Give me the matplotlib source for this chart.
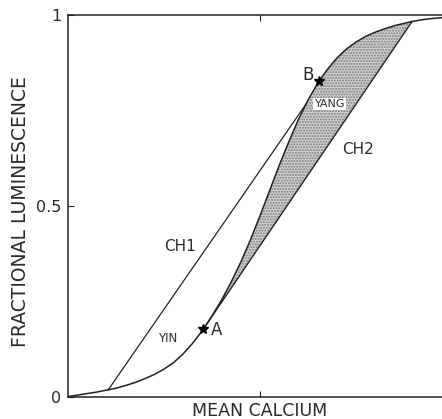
import matplotlib
matplotlib.use("Agg")
import matplotlib.pyplot as plt

# sigmoid curve (mean calcium -> fractional luminescence)
curve_x = [0.000, 0.025, 0.050, 0.075, 0.100, 0.125, 0.150, 0.175, 0.200, 0.225,
           0.250, 0.275, 0.300, 0.325, 0.350, 0.352, 0.375, 0.400, 0.425, 0.450,
           0.475, 0.500, 0.525, 0.550, 0.575, 0.600, 0.625, 0.650, 0.654, 0.675,
           0.700, 0.725, 0.750, 0.775, 0.800, 0.825, 0.850, 0.875, 0.896, 0.925,
           0.950, 0.975, 1.000]
curve_y = [0.001, 0.005, 0.009, 0.013, 0.018, 0.023, 0.030, 0.038, 0.048, 0.059,
           0.073, 0.090, 0.113, 0.141, 0.174, 0.177, 0.212, 0.254, 0.301, 0.353,
           0.411, 0.474, 0.540, 0.606, 0.668, 0.726, 0.777, 0.821, 0.827, 0.857,
           0.887, 0.911, 0.929, 0.944, 0.955, 0.964, 0.972, 0.978, 0.983, 0.988,
           0.991, 0.993, 0.994]

# chords
ch1_x = [0.105, 0.620]
ch1_y = [0.019, 0.767]
ch2_x = [0.352, 0.896]
ch2_y = [0.177, 0.983]

# marked points
point_a = (0.352, 0.177)
point_b = (0.654, 0.827)

ink = "#222222"
txt = "#2a2a2a"
plt.rcParams["font.family"] = ["DejaVu Sans"]

fig = plt.figure(figsize=(4.42, 4.19), dpi=100)
ax = fig.add_axes([0.1538, 0.0525, 0.8688, 0.9117])

# shaded region between curve and CH2 chord
seg = [(x, y) for x, y in zip(curve_x, curve_y) if ch2_x[0] <= x <= ch2_x[1]]
sx = [p[0] for p in seg] + [ch2_x[0]]
sy = [p[1] for p in seg] + [ch2_y[0]]
ax.fill(sx, sy, facecolor="#d2d2d2", edgecolor="#7a7a7a", hatch="......",
        linewidth=0, zorder=1)

ax.plot(curve_x, curve_y, color=ink, lw=1.1, solid_joinstyle="round", zorder=3)
ax.plot(ch1_x, ch1_y, color=ink, lw=0.9, zorder=3)
ax.plot(ch2_x, ch2_y, color=ink, lw=1.0, zorder=3)

ax.plot(*point_a, marker="*", color="black", ms=7, zorder=4)
ax.plot(*point_b, marker="*", color="black", ms=7, zorder=4)

ax.text(0.372, 0.175, "A", ha="left", va="center", fontsize=12, color=txt)
ax.text(0.625, 0.842, "B", ha="center", va="center", fontsize=12, color=txt)
ax.text(0.682, 0.767, "YANG", ha="center", va="center", fontsize=8, color=txt,
        bbox=dict(facecolor="white", edgecolor="none", pad=1.0), zorder=5)
ax.text(0.260, 0.152, "YIN", ha="center", va="center", fontsize=8.5, color=txt)
ax.text(0.292, 0.393, "CH1", ha="center", va="center", fontsize=11, color=txt)
ax.text(0.755, 0.647, "CH2", ha="center", va="center", fontsize=11, color=txt)

ax.set_xlim(0, 1)
ax.set_ylim(0, 1)
ax.set_xticks([0.5])
ax.set_xticklabels([""])
ax.set_yticks([0, 0.5, 1])
ax.set_yticklabels(["0", "0.5", "1"], fontsize=11.5, color=txt)
ax.tick_params(axis="x", direction="in", length=4, top=True, color=ink)
ax.tick_params(axis="y", direction="in", length=4, pad=5, color=ink)

for side in ["left", "bottom", "top"]:
    ax.spines[side].set_color(ink)
    ax.spines[side].set_linewidth(1.1)
ax.spines["right"].set_visible(False)

fig.text(260 / 442, 1 - 411 / 419, "MEAN CALCIUM", ha="center", va="center",
         fontsize=12.5, color=txt)
fig.text(21 / 442, 1 - 212 / 419, "FRACTIONAL LUMINESCENCE", ha="center",
         va="center", rotation=90, fontsize=13.5, color=txt)

fig.savefig("out.png", dpi=100)
